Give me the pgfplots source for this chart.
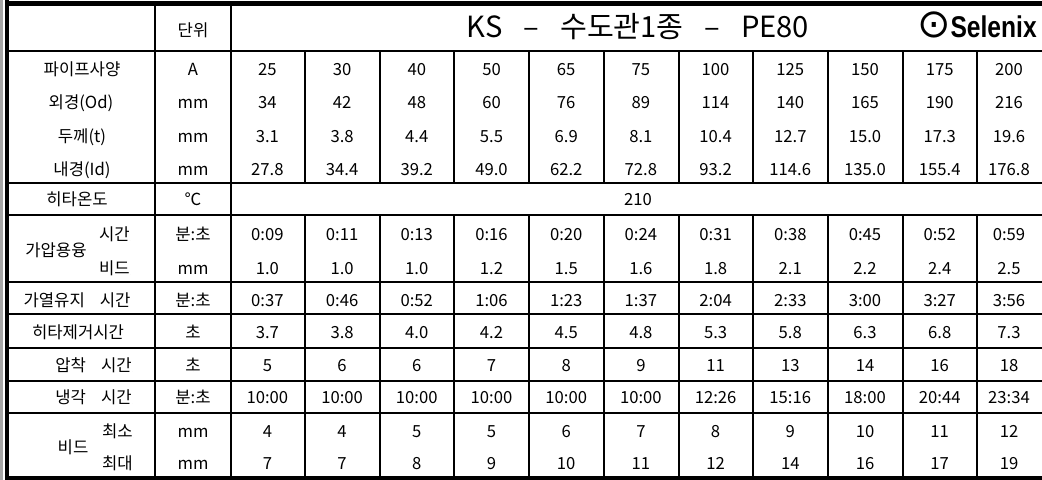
\documentclass[border=0pt]{standalone}
\usepackage{fontspec}
\setmainfont{Noto Sans CJK KR}[WordSpace=4]
\newfontfamily\titlefont{Noto Sans CJK KR}[WordSpace=3.2]
\newfontfamily\logofont{Liberation Sans}[FakeStretch=0.82]
\newfontfamily\symfont{DejaVu Sans}
\usepackage{pgfplots}
\usepackage{pgfplotstable}
\pgfplotsset{compat=1.18}

\pgfplotstableread{
x A Od t Id mt mb ht rt pt ct bmin bmax
267.4 25 34 3.1 27.8 0:09 1.0 0:37 3.7 5 10:00 4 7
342.1 30 42 3.8 34.4 0:11 1.0 0:46 3.8 6 10:00 4 7
416.8 40 48 4.4 39.2 0:13 1.0 0:52 4.0 6 10:00 5 8
491.5 50 60 5.5 49.0 0:16 1.2 1:06 4.2 7 10:00 5 9
566.2 65 76 6.9 62.2 0:20 1.5 1:23 4.5 8 10:00 6 10
640.9 75 89 8.1 72.8 0:24 1.6 1:37 4.8 9 10:00 7 11
715.6 100 114 10.4 93.2 0:31 1.8 2:04 5.3 11 12:26 8 12
790.3 125 140 12.7 114.6 0:38 2.1 2:33 5.8 13 15:16 9 14
865.0 150 165 15.0 135.0 0:45 2.2 3:00 6.3 14 18:00 10 16
939.7 175 190 17.3 155.4 0:52 2.4 3:27 6.8 16 20:44 11 17
1009 200 216 19.6 176.8 0:59 2.5 3:56 7.3 18 23:34 12 19
}\cells

\pgfplotstableread[col sep=comma]{
x,y,label
193,36.4,단위
193,75.4,A
193,108.9,mm
193,142.1,mm
193,175.4,mm
193,205.4,℃
193,240.4,분:초
193,274.4,mm
193,306.4,분:초
193,338.4,초
193,371.9,초
193,403.9,분:초
193,437.4,mm
193,469.9,mm
638,205.4,210
}\units

\pgfplotstableread[col sep=comma]{
x,y,label
82,75.4,파이프사양
81,108.9,외경(Od)
82,142.1,두께(t)
82,175.4,내경(Id)
77,205.4,히타온도
56,256.4,가압용융
77,306.4,가열유지 시간
78,338.4,히타제거시간
73,453.4,비드
}\labC

\pgfplotstableread[col sep=comma]{
x,y,label
130,240.4,시간
130,274.4,비드
132,371.9,압착 시간
132,403.9,냉각 시간
133,437.4,최소
133,469.9,최대
}\labE

\begin{document}
\begin{tikzpicture}
\begin{axis}[
  width=625.2pt, height=288pt, scale only axis,
  xmin=0, xmax=1042, ymin=0, ymax=480, y dir=reverse,
  axis lines=none, ticks=none, clip=true,
  grid line/.style={black, line width=1.2pt},
  cell text/.style={only marks, mark=*, mark size=0pt,
    mark options={draw=none, fill=none},
    point meta=explicit symbolic,
    nodes near coords={\pgfplotspointmeta},
    every node near coord/.append style={anchor=base, inner sep=0pt,
      text=black, font=\fontsize{10}{12}\selectfont}},
]
% background
\addplot[fill=white, draw=none] coordinates {(0,0) (1042,0) (1042,480) (0,480)} -- cycle;
% outer light line and thick border
\addplot[gray!70, line width=1.8pt] coordinates {(1.5,0) (1.5,480)};
\addplot[black, line width=3pt] coordinates {(5,3.5) (1042,3.5)};
\addplot[black, line width=2.4pt] coordinates {(7,0) (7,480)};
\addplot[black, line width=2.4pt] coordinates {(5,478) (1042,478)};
% horizontal rules
\pgfplotsinvokeforeach{50.7,182.7,215,281.5,314,348,381,413}{
  \addplot[grid line] coordinates {(7,#1) (1042,#1)};
}
% full-height vertical rules
\pgfplotsinvokeforeach{155,231}{
  \addplot[grid line] coordinates {(#1,3.5) (#1,478)};
}
% data column rules
\pgfplotsinvokeforeach{305,379.7,454.4,529.1,603.8,678.5,753.2,827.9,902.6,977.3}{
  \addplot[grid line] coordinates {(#1,50.7) (#1,182.7)};
  \addplot[grid line] coordinates {(#1,215) (#1,478)};
}
% data cells
\addplot[cell text] table[x=x, y expr=75.4, meta=A] {\cells};
\addplot[cell text] table[x=x, y expr=108.9, meta=Od] {\cells};
\addplot[cell text] table[x=x, y expr=142.1, meta=t] {\cells};
\addplot[cell text] table[x=x, y expr=175.4, meta=Id] {\cells};
\addplot[cell text] table[x=x, y expr=240.4, meta=mt] {\cells};
\addplot[cell text] table[x=x, y expr=274.4, meta=mb] {\cells};
\addplot[cell text] table[x=x, y expr=306.4, meta=ht] {\cells};
\addplot[cell text] table[x=x, y expr=338.4, meta=rt] {\cells};
\addplot[cell text] table[x=x, y expr=371.9, meta=pt] {\cells};
\addplot[cell text] table[x=x, y expr=403.9, meta=ct] {\cells};
\addplot[cell text] table[x=x, y expr=437.4, meta=bmin] {\cells};
\addplot[cell text] table[x=x, y expr=469.9, meta=bmax] {\cells};
% units and merged temperature
\addplot[cell text] table[x=x, y=y, meta=label] {\units};
% row labels
\addplot[cell text] table[x=x, y=y, meta=label] {\labC};
\addplot[cell text, every node near coord/.append style={anchor=base east}] table[x=x, y=y, meta=label] {\labE};
% title and logo
\node[anchor=base, inner sep=0pt, font=\titlefont\fontsize{17.5}{20}\selectfont] at (axis cs:638,37) {KS – 수도관1종 – PE80};
\node[anchor=base east, inner sep=0pt] at (axis cs:1037,37) {{\symfont\fontsize{24}{28}\selectfont ⊙}{\logofont\bfseries\fontsize{18}{20}\selectfont Selenix}};
\end{axis}
\end{tikzpicture}
\end{document}
